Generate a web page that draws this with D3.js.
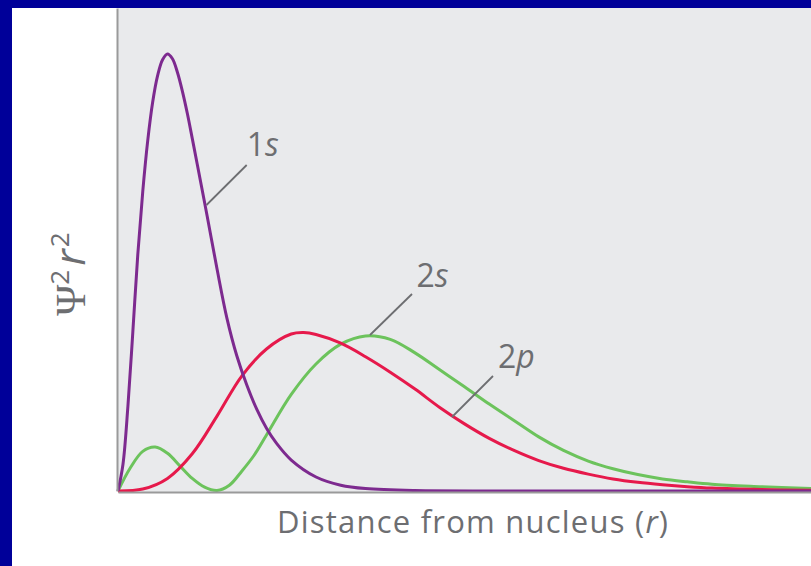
<!DOCTYPE html>
<html>
<head>
<meta charset="utf-8">
<script src="https://cdn.jsdelivr.net/npm/d3@7"></script>
<style>
  html, body { margin: 0; padding: 0; background: #000099; }
  svg { display: block; }
</style>
</head>
<body>
<svg id="chart" width="811" height="566"></svg>
<script>
// ---- Data (r in Bohr-radius-like units, value in % of plot height) ----
const r1s = [0, 0.1, 0.2, 0.3, 0.4, 0.5, 0.6, 0.7, 0.8, 0.9, 1.0, 1.1, 1.2, 1.3, 1.4, 1.5, 1.6, 1.8, 2.0, 2.2, 2.4, 2.6, 2.8, 3.0, 3.2, 3.5, 4.0, 4.5, 5.0, 6.0, 8.0, 14];
const v1s = [0, 5.5, 17.5, 33, 49, 62, 72.5, 80.5, 86, 89.3, 90.5, 89.5, 86.7, 82.8, 78.2, 73, 67.7, 57, 46, 35.8, 28, 22, 17, 13, 9.9, 6.4, 2.9, 1.2, 0.5, 0.1, 0.02, 0];

const r2p = [0, 0.5, 1.0, 1.5, 2.0, 2.5, 3.0, 3.5, 3.75, 4.0, 4.5, 5.0, 5.5, 6.0, 6.5, 7.0, 7.5, 8.0, 8.5, 9.0, 9.5, 10, 10.5, 11, 11.5, 12, 13, 14];
const v2p = [0, 0.4, 2.6, 7.7, 15.5, 23.8, 29.4, 32.5, 32.8, 32.4, 30.6, 27.8, 24.6, 21.1, 17.3, 13.9, 10.9, 8.4, 6.3, 4.7, 3.5, 2.5, 1.8, 1.3, 0.9, 0.6, 0.3, 0.15];

const r2s = [0, 0.25, 0.5, 0.75, 1.0, 1.25, 1.5, 1.75, 2.0, 2.25, 2.5, 2.75, 3.0, 3.5, 4.0, 4.5, 5.0, 5.5, 6.0, 6.5, 7.0, 7.5, 8.0, 8.5, 9.0, 9.5, 10, 10.5, 11, 11.5, 12, 13, 14];
const v2s = [0, 4.8, 8.2, 9.1, 7.8, 5.2, 2.6, 0.8, 0.1, 1.2, 4.1, 7.4, 11.6, 20, 26.3, 30.4, 32.1, 31.4, 28.6, 25.1, 21.6, 18, 14.6, 11.2, 8.4, 6.2, 4.6, 3.4, 2.5, 1.9, 1.4, 0.9, 0.5];

const seriesNames = ["1s", "2s", "2p"];
const xTitle = "Distance from nucleus (";
const xTitleVar = "r";

// ---- Layout ----
const svg = d3.select("#chart");
const W = 811, H = 566;
const plot = { left: 118, right: 811, top: 8, bottom: 491 };

svg.append("rect").attr("x", 12).attr("y", 8).attr("width", W - 12).attr("height", H - 8).attr("fill", "#ffffff");
svg.append("rect").attr("x", plot.left).attr("y", plot.top)
  .attr("width", plot.right - plot.left).attr("height", plot.bottom - plot.top + 1)
  .attr("fill", "#e9eaec");

const x = d3.scaleLinear().domain([0, 14]).range([plot.left, plot.right]);
const y = d3.scaleLinear().domain([0, 100]).range([plot.bottom, plot.top]);

const line = d3.line().x(d => x(d[0])).y(d => Math.min(plot.bottom, y(d[1])))
  .curve(d3.curveCatmullRom.alpha(0.5));
const zip = (a, b) => a.map((v, i) => [v, b[i]]);

const series = [
  { name: "2s", pts: zip(r2s, v2s), color: "#6cc35c" },
  { name: "2p", pts: zip(r2p, v2p), color: "#e6194b" },
  { name: "1s", pts: zip(r1s, v1s), color: "#7d2a8f" }
];

const g = svg.append("g");
series.forEach(s => {
  g.append("path").datum(s.pts)
    .attr("d", line)
    .attr("fill", "none")
    .attr("stroke", s.color)
    .attr("stroke-width", 3)
    .attr("stroke-linejoin", "round");
});

// axes (lines only, no ticks)
svg.append("g").attr("transform", `translate(0,${plot.bottom + 1})`)
  .call(d3.axisBottom(x).tickValues([]).tickSizeOuter(0))
  .call(a => a.select(".domain").attr("stroke", "#9a9a9a").attr("stroke-width", 2));
svg.append("g").attr("transform", `translate(${plot.left - 1},0)`)
  .call(d3.axisLeft(y).tickValues([]).tickSizeOuter(0))
  .call(a => a.select(".domain").attr("stroke", "#9a9a9a").attr("stroke-width", 2));

// ---- Annotations ----
const textColor = "#6d6e71";
const font = "'Open Sans', 'Noto Sans', sans-serif";
const ann = [
  { name: seriesNames[0], lx: 246.7, ly: 156, l: [[246.7, 165], [206.5, 205]] },
  { name: seriesNames[1], lx: 416.5, ly: 287, l: [[412, 294], [370, 335]] },
  { name: seriesNames[2], lx: 498, ly: 368, l: [[493, 376], [452, 417]] }
];
ann.forEach(a => {
  svg.append("line")
    .attr("x1", a.l[0][0]).attr("y1", a.l[0][1]).attr("x2", a.l[1][0]).attr("y2", a.l[1][1])
    .attr("stroke", "#6d6e71").attr("stroke-width", 1.8);
  const t = svg.append("text").attr("x", a.lx).attr("y", a.ly)
    .attr("font-family", font).attr("font-size", 32).attr("fill", textColor);
  t.append("tspan").text(a.name[0]);
  t.append("tspan").attr("font-style", "italic").text(a.name.slice(1));
});

// x title
const xt = svg.append("text").attr("x", 277).attr("y", 533)
  .attr("font-family", font).attr("font-size", 31).attr("fill", textColor)
  .attr("textLength", 391).attr("lengthAdjust", "spacing");
xt.append("tspan").text(xTitle);
xt.append("tspan").attr("font-style", "italic").text(xTitleVar);
xt.append("tspan").text(")");

// y title  Ψ²r²
const yt = svg.append("text").attr("transform", "translate(85,274) rotate(-90)")
  .attr("text-anchor", "middle").attr("font-size", 42).attr("fill", textColor)
  .attr("font-family", font);
yt.append("tspan").attr("font-family", "'Liberation Serif', 'DejaVu Serif', serif").text("Ψ");
yt.append("tspan").attr("font-size", 26).attr("dy", -16).text("2");
yt.append("tspan").attr("font-style", "italic").attr("dy", 16).attr("dx", 4).text("r");
yt.append("tspan").attr("font-size", 26).attr("dy", -16).attr("dx", 2).text("2");
</script>
</body>
</html>
